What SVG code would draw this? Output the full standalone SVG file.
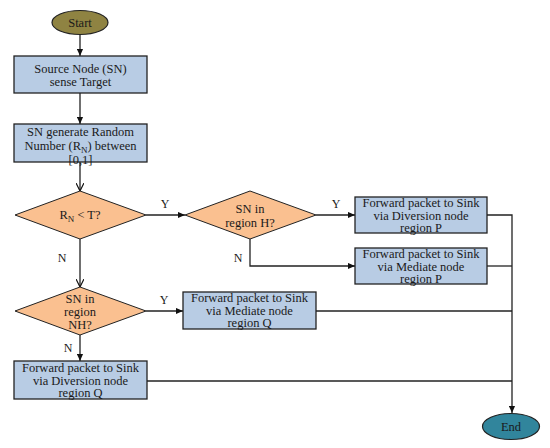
<svg xmlns="http://www.w3.org/2000/svg" width="550" height="448" viewBox="0 0 550 448">
<defs>
<marker id="arr" viewBox="0 0 8 8" refX="8" refY="4" markerWidth="7" markerHeight="7" markerUnits="userSpaceOnUse" orient="auto">
<path d="M0,0.5 L8,4 L0,7.5 Z" fill="#111"/>
</marker>
<marker id="open" viewBox="0 0 8 8" refX="8" refY="4" markerWidth="8" markerHeight="8" markerUnits="userSpaceOnUse" orient="auto">
<path d="M0,0 L8,4 L0,8" fill="none" stroke="#111" stroke-width="1.2"/>
</marker>
<style>
text{font-family:"Liberation Serif","Times New Roman",serif;font-size:12.5px;fill:#1a1a1a;text-anchor:middle}
.box{fill:#b8cce4;stroke:#222;stroke-width:1.3}
.dia{fill:#fac090;stroke:#222;stroke-width:1}
.ln{fill:none;stroke:#222;stroke-width:1.3}
.lbl{font-size:12px}
.sub{font-size:9px}
</style>
</defs>
<rect width="550" height="448" fill="#fff"/>
<g id="connectors">
<line class="ln" x1="80" y1="35" x2="80" y2="56" marker-end="url(#arr)"/>
<line class="ln" x1="80" y1="93" x2="80" y2="124" marker-end="url(#arr)"/>
<line class="ln" x1="80" y1="162" x2="80" y2="191" marker-end="url(#open)"/>
<line class="ln" x1="146" y1="215" x2="185" y2="215" marker-end="url(#arr)"/>
<line class="ln" x1="316" y1="215" x2="355" y2="215" marker-end="url(#arr)"/>
<polyline class="ln" points="250,239 250,266 355,266" marker-end="url(#arr)"/>
<line class="ln" x1="80" y1="239" x2="80" y2="287" marker-end="url(#open)"/>
<line class="ln" x1="146" y1="311" x2="183" y2="311" marker-end="url(#arr)"/>
<line class="ln" x1="80" y1="335" x2="80" y2="361" marker-end="url(#arr)"/>
<polyline class="ln" points="487,215 512,215 512,413" marker-end="url(#arr)"/>
<line class="ln" x1="487" y1="266" x2="512" y2="266"/>
<line class="ln" x1="316" y1="311" x2="512" y2="311"/>
<line class="ln" x1="147" y1="381" x2="512" y2="381"/>
<text class="lbl" x="165" y="208">Y</text>
<text class="lbl" x="336" y="208">Y</text>
<text class="lbl" x="238" y="262">N</text>
<text class="lbl" x="62" y="262">N</text>
<text class="lbl" x="164" y="304">Y</text>
<text class="lbl" x="68" y="352">N</text>
</g>
<g id="start">
<ellipse cx="80" cy="22.5" rx="28" ry="12" fill="#8f8342" stroke="#222" stroke-width="1.2"/>
<text x="80" y="26.5">Start</text>
</g>
<g id="sense">
<rect class="box" x="14" y="56" width="133" height="37"/>
<text x="80.5" y="73">Source Node (SN)</text>
<text x="80.5" y="86">sense Target</text>
</g>
<g id="generate">
<rect class="box" x="14" y="124" width="133" height="38"/>
<text x="80.5" y="135.5">SN generate Random</text>
<text x="80.5" y="150">Number (R<tspan class="sub" dy="2.5">N</tspan><tspan dy="-2.5">) between</tspan></text>
<text x="80.5" y="164">[0,1]</text>
</g>
<g id="decision-rn">
<polygon class="dia" points="15,215 80,191 146,215 80,239"/>
<text x="80" y="219">R<tspan class="sub" dy="2.5">N</tspan><tspan dy="-2.5"> &lt; T?</tspan></text>
</g>
<g id="decision-h">
<polygon class="dia" points="185,215 250,191 316,215 250,239"/>
<text x="250" y="213">SN in</text>
<text x="250" y="227">region H?</text>
</g>
<g id="div-p">
<rect class="box" x="355" y="197" width="132" height="36"/>
<text x="421" y="207">Forward packet to Sink</text>
<text x="421" y="219.5">via Diversion node</text>
<text x="421" y="232">region P</text>
</g>
<g id="med-p">
<rect class="box" x="355" y="248" width="132" height="36"/>
<text x="421" y="258">Forward packet to Sink</text>
<text x="421" y="270.5">via Mediate node</text>
<text x="421" y="283">region P</text>
</g>
<g id="decision-nh">
<polygon class="dia" points="15,311 80,287 146,311 80,335"/>
<text x="80" y="303">SN in</text>
<text x="80" y="316">region</text>
<text x="80" y="329">NH?</text>
</g>
<g id="med-q">
<rect class="box" x="183" y="292" width="133" height="37"/>
<text x="249.5" y="302">Forward packet to Sink</text>
<text x="249.5" y="314.5">via Mediate node</text>
<text x="249.5" y="327">region Q</text>
</g>
<g id="div-q">
<rect class="box" x="14" y="361" width="133" height="38"/>
<text x="80.5" y="372">Forward packet to Sink</text>
<text x="80.5" y="384.5">via Diversion node</text>
<text x="80.5" y="397">region Q</text>
</g>
<g id="end">
<ellipse cx="511" cy="426.5" rx="28.5" ry="13" fill="#31859c" stroke="#222" stroke-width="1.2"/>
<text x="511" y="430.5">End</text>
</g>
</svg>
